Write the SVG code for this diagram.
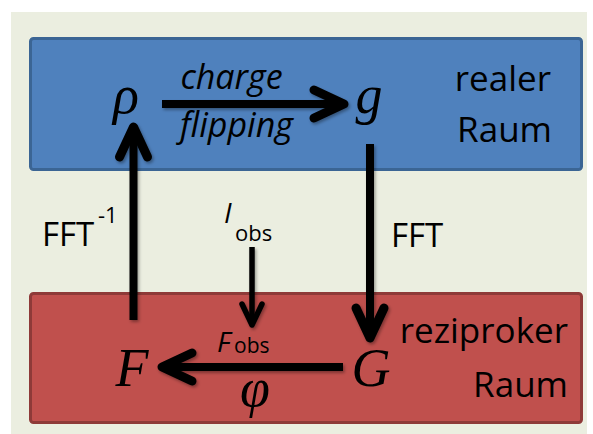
<svg xmlns="http://www.w3.org/2000/svg" width="593" height="434" viewBox="0 0 593 434">
  <defs>
    <filter id="sh" x="-20%" y="-20%" width="140%" height="140%">
      <feDropShadow dx="1.5" dy="2" stdDeviation="1.5" flood-color="#000" flood-opacity="0.35"/>
    </filter>
    <marker id="head" markerUnits="userSpaceOnUse" viewBox="-40 -20 50 40" refX="0" refY="0" markerWidth="50" markerHeight="40" orient="auto" overflow="visible">
      <path d="M-30,-14 L0,0 L-30,14" fill="none" stroke="#000" stroke-width="9" stroke-linecap="round" stroke-linejoin="round"/>
    </marker>
    <marker id="headSmall" markerUnits="userSpaceOnUse" viewBox="-30 -15 40 30" refX="0" refY="0" markerWidth="40" markerHeight="30" orient="auto" overflow="visible">
      <path d="M-21,-10 L0,0 L-21,10" fill="none" stroke="#000" stroke-width="5.5" stroke-linecap="round" stroke-linejoin="round"/>
    </marker>
  </defs>
  <style>
    .lbl { font-family: "Open Sans", "Liberation Sans", sans-serif; fill: #000; }
    .big { font-size: 35px; }
    .it { font-style: italic; }
    .math { font-family: "Liberation Serif", "DejaVu Serif", serif; font-style: italic; font-size: 54px; fill: #000; }
    .conn { stroke: #000; fill: none; }
    .thick { stroke-width: 8; marker-end: url(#head); }
    .thin { stroke-width: 5.5; marker-end: url(#headSmall); }
  </style>

  <rect x="11" y="12" width="576" height="422" fill="#EBEEE0"/>

  <g id="real-space">
    <rect x="30.5" y="38.5" width="551" height="131" rx="3" fill="#4F81BD" stroke="#3B6594" stroke-width="3"/>
    <text class="lbl big" x="551" y="91" text-anchor="end">realer</text>
    <text class="lbl big" x="552" y="142" text-anchor="end">Raum</text>
  </g>

  <g id="reciprocal-space">
    <rect x="30.5" y="293.5" width="551" height="129" rx="3" fill="#C0504D" stroke="#8E3A38" stroke-width="3"/>
    <text class="lbl big" x="568" y="343" text-anchor="end">reziproker</text>
    <text class="lbl big" x="568" y="397" text-anchor="end">Raum</text>
  </g>

  <g id="connectors" filter="url(#sh)">
    <line class="conn thick" x1="162" y1="104" x2="344" y2="104"/>
    <line class="conn thick" x1="370" y1="144" x2="370" y2="338"/>
    <line class="conn thick" x1="343" y1="367" x2="162" y2="367"/>
    <line class="conn thick" x1="133.5" y1="320" x2="133.5" y2="127"/>
    <line class="conn thin" x1="252" y1="247" x2="252" y2="325"/>
  </g>

  <g id="node-rho">
    <text class="math" x="126" y="113" text-anchor="middle">ρ</text>
  </g>
  <g id="node-g">
    <text class="math" x="369" y="113" text-anchor="middle">g</text>
  </g>
  <g id="node-F">
    <text class="math" x="132" y="386" text-anchor="middle">F</text>
  </g>
  <g id="node-G">
    <text class="math" x="371" y="386" text-anchor="middle">G</text>
  </g>

  <g id="label-charge-flipping">
    <text class="lbl it" font-size="34" x="231.5" y="89" text-anchor="middle">charge</text>
    <text class="lbl it" font-size="34" x="236.5" y="137" text-anchor="middle">flipping</text>
  </g>
  <g id="label-fft-inv">
    <text class="lbl" font-size="33" x="42" y="246">FFT</text>
    <text class="lbl" font-size="22" x="98" y="223">-1</text>
  </g>
  <g id="label-fft">
    <text class="lbl" font-size="33" x="391" y="247">FFT</text>
  </g>
  <g id="label-iobs">
    <text class="lbl it" font-size="28" x="224" y="223">I</text>
    <text class="lbl" font-size="22" x="235" y="241">obs</text>
  </g>
  <g id="label-fobs">
    <text class="lbl it" font-size="28" x="217" y="352">F</text>
    <text class="lbl" font-size="21" x="234" y="353">obs</text>
  </g>
  <g id="label-phi">
    <text class="math" font-size="46" x="255" y="406" text-anchor="middle">φ</text>
  </g>
</svg>
